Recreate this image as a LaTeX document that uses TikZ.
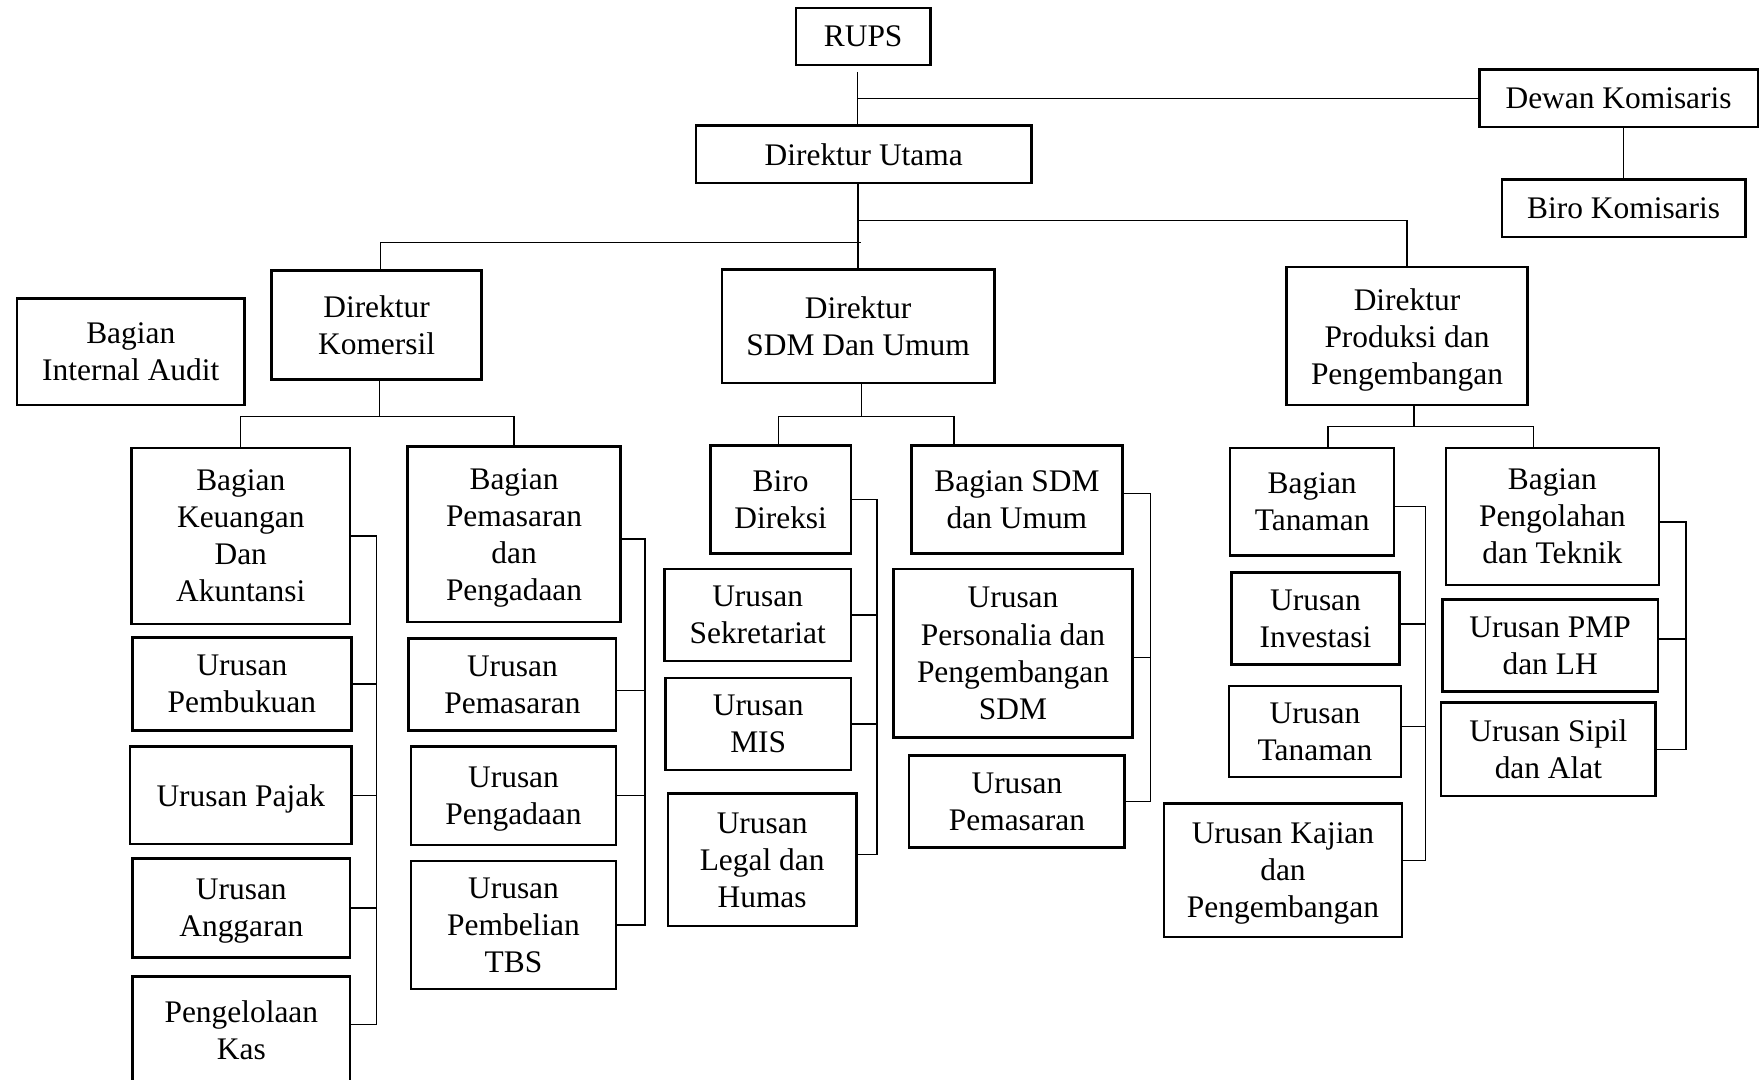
\documentclass[tikz,border=0pt]{standalone}
\usepackage{fontspec}
\setmainfont{Liberation Serif}
\tikzset{
  box/.style={draw, line width=1.1pt, inner sep=0pt, outer sep=0pt, align=center,
    text depth=0pt, font=\fontsize{14}{16.5}\selectfont},
  conn/.style={draw, line width=0.6pt}
}
\newcommand\bx[6]{\node[box, minimum width={(#4-#2)*0.5pt}, minimum height={(#5-#3)*0.5pt}] (#1) at ({(#2+#4)/2},{(#3+#5)/2}) {#6};}
\begin{document}
\begin{tikzpicture}[x=0.5pt,y=-0.5pt]
\path[use as bounding box] (0,0) rectangle (1568,962);
\clip (0,0) rectangle (1568,962);
\fill[white] (0,0) rectangle (1568,962);
% top
\bx{rups}{709}{7}{829}{58}{RUPS}
\bx{dewan}{1318}{62}{1566}{113}{Dewan Komisaris}
\bx{birokom}{1338}{160}{1555}{211}{Biro Komisaris}
\bx{dirut}{620}{112}{919}{163}{Direktur Utama}
\bx{audit}{15}{266}{218}{361}{Bagian\\Internal Audit}
\bx{dirkom}{242}{241}{429}{338}{Direktur\\Komersil}
\bx{dirsdm}{643}{240}{886}{341}{Direktur\\SDM Dan Umum}
\bx{dirprod}{1146}{238}{1361}{361}{Direktur\\Produksi dan\\Pengembangan}
% komersil
\bx{keu}{117}{399}{312}{556}{Bagian\\Keuangan\\Dan\\Akuntansi}
\bx{pembuk}{118}{568}{313}{651}{Urusan\\Pembukuan}
\bx{pajak}{116}{665}{313}{752}{Urusan Pajak}
\bx{anggar}{118}{765}{312}{853}{Urusan\\Anggaran}
\bx{pengel}{118}{870}{312}{966}{Pengelolaan\\Kas}
\bx{pembag}{363}{398}{553}{554}{Bagian\\Pemasaran\\dan\\Pengadaan}
\bx{upemas}{364}{569}{549}{651}{Urusan\\Pemasaran}
\bx{upengad}{366}{665}{549}{753}{Urusan\\Pengadaan}
\bx{ubeli}{366}{767}{549}{881}{Urusan\\Pembelian\\TBS}
% sdm
\bx{birodir}{633}{397}{758}{493}{Biro\\Direksi}
\bx{sekret}{592}{507}{758}{589}{Urusan\\Sekretariat}
\bx{mis}{593}{604}{758}{686}{Urusan\\MIS}
\bx{legal}{595}{707}{763}{825}{Urusan\\Legal dan\\Humas}
\bx{sdmbag}{812}{397}{1000}{493}{Bagian SDM\\dan Umum}
\bx{person}{796}{507}{1009}{657}{Urusan\\Personalia dan\\Pengembangan\\SDM}
\bx{upemas2}{810}{673}{1002}{755}{Urusan\\Pemasaran}
% produksi
\bx{bagtan}{1096}{399}{1242}{495}{Bagian\\Tanaman}
\bx{invest}{1097}{510}{1247}{592}{Urusan\\Investasi}
\bx{urtan}{1095}{611}{1248}{692}{Urusan\\Tanaman}
\bx{kajian}{1037}{716}{1249}{835}{Urusan Kajian\\dan\\Pengembangan}
\bx{pengol}{1288}{399}{1478}{521}{Bagian\\Pengolahan\\dan Teknik}
\bx{pmp}{1285}{534}{1477}{616}{Urusan PMP\\dan LH}
\bx{sipil}{1284}{626}{1475}{709}{Urusan Sipil\\dan Alat}

% top connectors
\coordinate (j0) at (764,64);
\draw[conn] (j0) -- (j0 |- dirut.north);
\draw[conn] (j0 |- dewan.west) -- (dewan.west);
\draw[conn] (dewan.south -| birokom.north) -- (birokom.north);
\draw[conn] (dirut.south -| dirsdm.north) -- (dirsdm.north);
\coordinate (j1) at (765,196.6);
\draw[conn] (j1) -| (dirprod.north);
\coordinate (j2) at (767,216);
\coordinate (j3) at (339,216);
\draw[conn] (j2) -- (j3) -- (j3 |- dirkom.north);

% level 2 -> 3
\coordinate (k0) at (338,371);
\draw[conn] (k0 |- dirkom.south) -- (k0);
\draw[conn] (keu.north) -- (keu.north |- k0) -- (pembag.north |- k0) -- (pembag.north);
\coordinate (s0) at (693.5,371);
\coordinate (s1) at (850,371);
\coordinate (s2) at (767.7,371);
\draw[conn] (s2 |- dirsdm.south) -- (s2);
\draw[conn] (s0 |- birodir.north) -- (s0) -- (s1) -- (s1 |- sdmbag.north);
\coordinate (p0) at (1183,380);
\coordinate (p1) at (1366,380);
\coordinate (p2) at (1259.7,380);
\draw[conn] (p2 |- dirprod.south) -- (p2);
\draw[conn] (p0 |- bagtan.north) -- (p0) -- (p1) -- (p1 |- pengol.north);

% brackets komersil left
\coordinate (vk) at (335.5,0);
\coordinate (kt5) at ([yshift=2.75pt]pengel.east);
\draw[conn] (keu.east) -- (keu.east -| vk) -- (vk |- kt5) -- (kt5);
\foreach \n in {pembuk,pajak,anggar} \draw[conn] (\n.east) -- (\n.east -| vk);
% komersil right
\coordinate (vr) at (574.5,0);
\coordinate (rt1) at ([yshift=-2.15pt]pembag.east);
\coordinate (rt2) at ([yshift=-2.5pt]upemas.east);
\draw[conn] (rt1) -- (rt1 -| vr) -- (vr |- ubeli.east) -- (ubeli.east);
\draw[conn] (rt2) -- (rt2 -| vr);
\draw[conn] (upengad.east) -- (upengad.east -| vr);
% sdm left
\coordinate (vd) at (781.4,0);
\coordinate (dt4) at ([yshift=2.5pt]legal.east);
\draw[conn] (birodir.east) -- (birodir.east -| vd) -- (vd |- dt4) -- (dt4);
\foreach \n in {sekret,mis} \draw[conn] (\n.east) -- (\n.east -| vd);
% sdm right
\coordinate (vs) at (1024.9,0);
\coordinate (st1) at ([yshift=2.75pt]sdmbag.east);
\coordinate (st2) at ([yshift=-1.85pt]person.east);
\draw[conn] (st1) -- (st1 -| vs) -- (vs |- upemas2.east) -- (upemas2.east);
\draw[conn] (st2) -- (st2 -| vs);
% produksi left
\coordinate (vt) at (1270,0);
\coordinate (bt1) at ([yshift=-2pt]bagtan.east);
\coordinate (bt2) at ([yshift=-2.4pt]invest.east);
\coordinate (bt3) at ([yshift=2.2pt]urtan.east);
\coordinate (bt4) at ([yshift=4.5pt]kajian.east);
\draw[conn] (bt1) -- (bt1 -| vt) -- (vt |- bt4) -- (bt4);
\draw[conn] (bt2) -- (bt2 -| vt);
\draw[conn] (bt3) -- (bt3 -| vt);
% produksi right
\coordinate (vo) at (1501.9,0);
\coordinate (ot1) at ([yshift=-2.5pt]pengol.east);
\coordinate (ot2) at ([yshift=2.9pt]pmp.east);
\draw[conn] (ot1) -- (ot1 -| vo) -- (vo |- sipil.east) -- (sipil.east);
\draw[conn] (ot2) -- (ot2 -| vo);
\end{tikzpicture}
\end{document}
